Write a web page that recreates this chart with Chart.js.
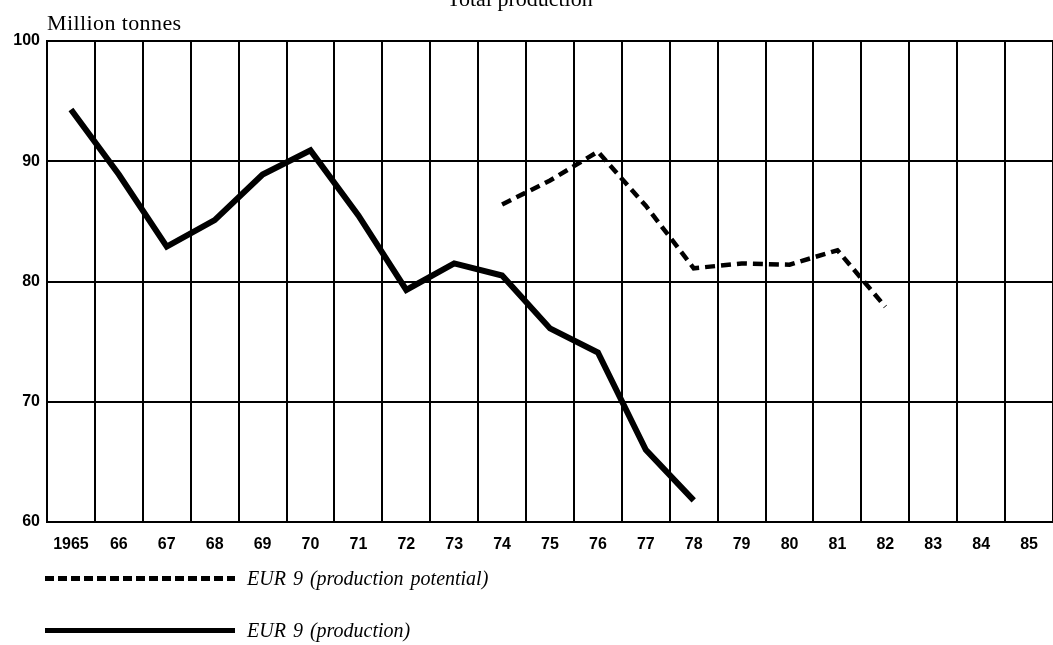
<!DOCTYPE html>
<html>
<head>
<meta charset="utf-8">
<script src="https://cdn.jsdelivr.net/npm/chart.js@4"></script>
<style>
  html, body { margin: 0; padding: 0; background: #fff; }
  #wrap { position: relative; width: 1053px; height: 645px; overflow: hidden; }
  #chart { position: absolute; left: 0; top: 0; }
  .title { position: absolute; left: 447px; top: -12px; font: 22px "Liberation Serif", serif; line-height: 22px; white-space: nowrap; }
  .unit { position: absolute; left: 47px; top: 12px; font: 22px "Liberation Serif", serif; line-height: 22px; letter-spacing: 0.4px; }
  #legend { position: absolute; left: 45px; top: 552px; font: italic 20px "Liberation Serif", serif; word-spacing: 2px; }
  .item { display: flex; align-items: center; height: 52px; }
  .sample { width: 190px; height: 5px; margin-right: 12px; }
</style>
</head>
<body>
<div id="wrap">
  <canvas id="chart" width="1053" height="645"></canvas>
  <div class="title">Total production ¹</div>
  <div class="unit">Million tonnes</div>
  <div id="legend"></div>
</div>
<script>
const years = ["1965", "66", "67", "68", "69", "70", "71", "72", "73", "74", "75",
  "76", "77", "78", "79", "80", "81", "82", "83", "84", "85"];
const production = [94.3, 88.9, 82.9, 85.1, 88.9, 90.9, 85.5, 79.3, 81.5, 80.5, 76.1,
  74.1, 66.0, 61.8, null, null, null, null, null, null, null];
const potential = [null, null, null, null, null, null, null, null, null, 86.4, 88.4,
  90.8, 86.3, 81.1, 81.5, 81.4, 82.6, 77.9, null, null, null];
const yTicks = [60, 70, 80, 90, 100];

const chart = new Chart(document.getElementById("chart"), {
  type: "line",
  data: {
    labels: years,
    datasets: [
      {
        label: "EUR 9 (production potential)",
        data: potential,
        borderColor: "#000",
        borderWidth: 4.5,
        borderDash: [10, 6],
        pointRadius: 0,
        tension: 0,
        spanGaps: false
      },
      {
        label: "EUR 9 (production)",
        data: production,
        borderColor: "#000",
        borderWidth: 6,
        pointRadius: 0,
        tension: 0,
        spanGaps: false
      }
    ]
  },
  options: {
    responsive: false,
    animation: false,
    devicePixelRatio: 1,
    layout: { padding: { top: 41, left: 0, right: 0, bottom: 0 } },
    plugins: { legend: { display: false }, tooltip: { enabled: false } },
    scales: {
      x: {
        offset: true,
        grid: { offset: true, color: "#000", lineWidth: 2, drawTicks: false },
        border: { color: "#000", width: 2 },
        ticks: {
          color: "#000",
          autoSkip: false,
          maxRotation: 0,
          padding: 13,
          font: { family: "Liberation Sans", weight: "bold", size: 16 }
        },
        afterFit: (s) => { s.height = 123; }
      },
      y: {
        min: 60,
        max: 100,
        afterBuildTicks: (s) => { s.ticks = yTicks.map((v) => ({ value: v })); },
        grid: { color: "#000", lineWidth: 2, drawTicks: false },
        border: { color: "#000", width: 2 },
        ticks: {
          color: "#000",
          padding: 7,
          font: { family: "Liberation Sans", weight: "bold", size: 16 }
        },
        afterFit: (s) => { s.width = 47; }
      }
    }
  }
});

// legend built from the datasets
const legend = document.getElementById("legend");
chart.data.datasets.forEach((ds) => {
  const row = document.createElement("div");
  row.className = "item";
  const sample = document.createElement("span");
  sample.className = "sample";
  sample.style.background = ds.borderDash
    ? "repeating-linear-gradient(90deg, #000 0 9px, transparent 9px 13px)"
    : "#000";
  const text = document.createElement("span");
  text.textContent = ds.label;
  row.appendChild(sample);
  row.appendChild(text);
  legend.appendChild(row);
});
</script>
</body>
</html>
